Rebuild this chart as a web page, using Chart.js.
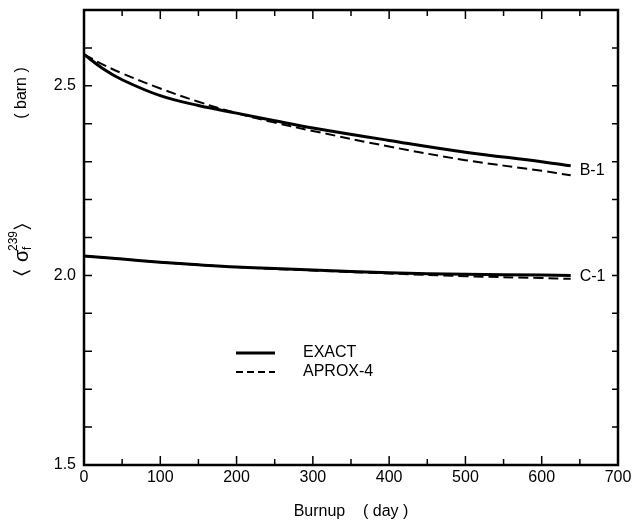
<!DOCTYPE html>
<html>
<head>
<meta charset="utf-8">
<script src="https://cdn.jsdelivr.net/npm/chart.js@4.4.1/dist/chart.umd.min.js"></script>
<style>
  html, body { margin: 0; padding: 0; background: #fff; }
  #wrap { width: 638px; height: 532px; }
</style>
</head>
<body>
<div id="wrap"><canvas id="chart"></canvas></div>
<script>
// burnup days
const days = [0, 25, 50, 100, 150, 200, 250, 300, 400, 500, 600, 638];
// B-1 case
const b1Exact = [2.583, 2.545, 2.516, 2.474, 2.448, 2.428, 2.408, 2.389, 2.356, 2.325, 2.300, 2.289];
const b1Aprox = [2.583, 2.556, 2.533, 2.493, 2.458, 2.428, 2.403, 2.381, 2.340, 2.304, 2.276, 2.264];
// C-1 case
const c1Exact = [2.051, 2.047, 2.043, 2.035, 2.028, 2.022, 2.018, 2.014, 2.007, 2.003, 2.001, 2.000];
const c1Aprox = [2.051, 2.047, 2.043, 2.035, 2.028, 2.022, 2.017, 2.013, 2.005, 1.998, 1.993, 1.991];
const yLabels = [1.5, 2.0, 2.5];

const pts = ys => days.map((d, i) => ({ x: d, y: ys[i] }));
const FONT = '"Liberation Sans", Arial, sans-serif';

const solid = { borderColor: '#000', borderWidth: 3, pointRadius: 0, fill: false, tension: 0.4 };
const dashed = { borderColor: '#000', borderWidth: 2, borderDash: [10, 5], pointRadius: 0, fill: false, tension: 0.4 };

const decorations = {
  id: 'decorations',
  afterDraw(chart) {
    const c = chart.ctx;
    const xs = chart.scales.x, ys = chart.scales.y;
    const a = chart.chartArea;
    c.save();
    c.strokeStyle = '#000';
    c.lineWidth = 1.5;
    // inward ticks on all four sides
    for (let v = 0; v <= 700; v += 50) {
      const px = xs.getPixelForValue(v);
      const len = v % 100 === 0 ? 9 : 6;
      c.beginPath();
      c.moveTo(px, a.bottom); c.lineTo(px, a.bottom - len);
      c.moveTo(px, a.top); c.lineTo(px, a.top + len);
      c.stroke();
    }
    for (let k = 15; k <= 27; k++) {
      const py = ys.getPixelForValue(k / 10);
      c.beginPath();
      c.moveTo(a.left, py); c.lineTo(a.left + 8, py);
      c.moveTo(a.right, py); c.lineTo(a.right - 6, py);
      c.stroke();
    }
    // frame
    c.lineWidth = 2.5;
    c.strokeRect(a.left, a.top, a.right - a.left, a.bottom - a.top);

    c.fillStyle = '#000';
    c.font = '16px ' + FONT;
    c.textBaseline = 'middle';
    // curve labels
    const lastX = xs.getPixelForValue(days[days.length - 1]);
    c.fillText('B-1', lastX + 9, ys.getPixelForValue(2.276));
    c.fillText('C-1', lastX + 9, ys.getPixelForValue(1.996));

    // legend
    const legend = [['EXACT', solid], ['APROX-4', dashed]];
    legend.forEach(([txt, st], i) => {
      const y = 353 + i * 19;
      c.lineWidth = st.borderWidth;
      c.setLineDash(st.borderDash ? [7, 4] : []);
      c.beginPath(); c.moveTo(236, y); c.lineTo(275, y); c.stroke();
      c.setLineDash([]);
      c.fillText(txt, 303, y);
    });

    // y-axis title, rotated
    c.translate(22, 0);
    c.rotate(-Math.PI / 2);
    c.textAlign = 'center';
    c.fillText('( barn )', -93, 0);
    c.font = '20px ' + FONT;
    c.textAlign = 'left';
    c.fillText('\u2329', -276, 0);
    c.fillText('\u03C3', -262, 0);
    c.font = '12px ' + FONT;
    c.fillText('f', -250, 6);
    c.fillText('239', -251, -8);
    c.font = '20px ' + FONT;
    c.fillText('\u232A', -230, 0);
    c.restore();
  }
};

new Chart(document.getElementById('chart'), {
  type: 'line',
  data: {
    datasets: [
      Object.assign({ label: 'B-1 EXACT', data: pts(b1Exact) }, solid),
      Object.assign({ label: 'B-1 APROX-4', data: pts(b1Aprox) }, dashed),
      Object.assign({ label: 'C-1 EXACT', data: pts(c1Exact) }, solid),
      Object.assign({ label: 'C-1 APROX-4', data: pts(c1Aprox) }, dashed)
    ]
  },
  options: {
    responsive: true,
    maintainAspectRatio: false,
    animation: false,
    layout: { padding: { top: 10, right: 20, left: 0, bottom: 0 } },
    plugins: { legend: { display: false }, tooltip: { enabled: false } },
    scales: {
      x: {
        type: 'linear', min: 0, max: 700,
        grid: { display: false, drawTicks: false },
        border: { display: false },
        ticks: { stepSize: 100, color: '#000', font: { family: FONT, size: 16 }, padding: 3, maxRotation: 0 },
        title: { display: true, text: 'Burnup    ( day )', color: '#000', font: { family: FONT, size: 16 }, padding: { top: 6, bottom: 11 } },
        afterFit: s => { s.height = 67; s.paddingLeft = 0; s.paddingRight = 0; }
      },
      y: {
        min: 1.5, max: 2.7,
        grid: { display: false, drawTicks: false },
        border: { display: false },
        afterBuildTicks: s => { s.ticks = yLabels.map(v => ({ value: v })); },
        ticks: { color: '#000', font: { family: FONT, size: 16 }, padding: 8, callback: v => v.toFixed(1) },
        afterFit: s => { s.width = 84; s.paddingTop = 0; s.paddingBottom = 0; }
      }
    }
  },
  plugins: [decorations]
});
</script>
</body>
</html>
